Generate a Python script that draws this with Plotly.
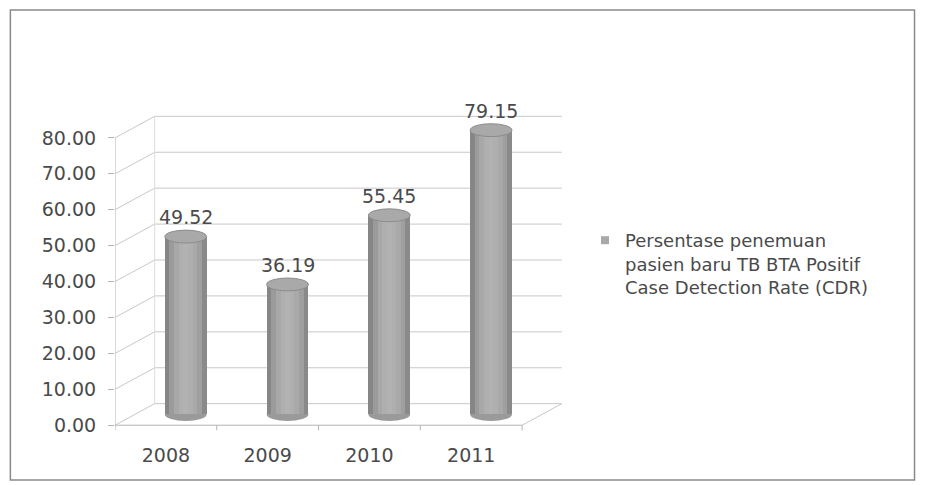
import plotly.graph_objects as go

# Case Detection Rate (CDR) per year
years = ["2008", "2009", "2010", "2011"]
cdr = [49.52, 36.19, 55.45, 79.15]
y_ticks = [0, 10, 20, 30, 40, 50, 60, 70, 80]
y_tick_text = [f"{v:.2f}" for v in y_ticks]
series_name = "Persentase penemuan<br>pasien baru TB BTA Positif<br>Case Detection Rate (CDR)"

# pseudo-3D geometry, in axis units
DEPTH_DX = 0.39      # back wall shift to the right
DEPTH_DY = 6.0       # back wall shift upwards
BAR_W = 0.41         # cylinder diameter
ELL_RY = 1.8         # half-height of the cylinder end ellipses
X_LO, X_HI = -0.5, len(years) - 0.5

W, H = 931, 485
M_L, M_R, M_T, M_B = 115, 352, 84, 49
X_RANGE = [X_LO, 4.0]
Y_RANGE = [-3, 95]

GRID = "#c8c8c8"
TEXT = "#4a4a4a"
FONT = "DejaVu Sans"

fig = go.Figure()

# shaded vertical strips give each bar a cylindrical look
strip_grays = ["#868686", "#9b9b9b", "#a8a8a8", "#afafaf", "#b2b2b2",
               "#afafaf", "#a9a9a9", "#9f9f9f", "#8a8a8a"]
n = len(strip_grays)
sw = BAR_W / n
for k, g in enumerate(strip_grays):
    off = -BAR_W / 2 + sw * (k + 0.5)
    fig.add_trace(go.Bar(
        x=[i + DEPTH_DX / 2 + off for i in range(len(years))],
        y=cdr,
        base=DEPTH_DY / 2,
        width=sw * 1.02,
        marker=dict(color=g, line=dict(width=0)),
        showlegend=False,
        hoverinfo="skip",
    ))

# legend entry with a small square swatch
fig.add_trace(go.Scatter(
    x=[None], y=[None], mode="markers", name=series_name,
    marker=dict(symbol="square", size=8, color="#a8a8a8"),
))

shapes = []

def seg(x0, y0, x1, y1, color=GRID, width=1):
    shapes.append(dict(type="line", xref="x", yref="y", x0=x0, y0=y0, x1=x1, y1=y1,
                       line=dict(color=color, width=width), layer="below"))

# back wall gridlines and side-wall diagonals
for v in y_ticks:
    seg(X_LO + DEPTH_DX, v + DEPTH_DY, X_HI + DEPTH_DX, v + DEPTH_DY)
    seg(X_LO, v, X_LO + DEPTH_DX, v + DEPTH_DY)
seg(X_LO + DEPTH_DX, DEPTH_DY, X_LO + DEPTH_DX, y_ticks[-1] + DEPTH_DY, color="#dcdcdc")
# floor edges and axes
seg(X_LO, 0, X_HI, 0, color="#b4b4b4")
seg(X_HI, 0, X_HI + DEPTH_DX, DEPTH_DY)
seg(X_LO, 0, X_LO, y_ticks[-1], color="#b4b4b4")
# category boundary ticks on the front edge
for b in range(len(years) + 1):
    seg(X_LO + b, 0, X_LO + b, -1.4, color="#b4b4b4")

# rounded bottoms and elliptical tops of the cylinders
for i, v in enumerate(cdr):
    xc = i + DEPTH_DX / 2
    base = DEPTH_DY / 2
    shapes.append(dict(type="circle", xref="x", yref="y",
                       x0=xc - BAR_W / 2, x1=xc + BAR_W / 2,
                       y0=base - ELL_RY, y1=base + ELL_RY,
                       fillcolor="#9a9a9a", line=dict(width=0), layer="below"))
    top = base + v
    shapes.append(dict(type="circle", xref="x", yref="y",
                       x0=xc - BAR_W / 2, x1=xc + BAR_W / 2,
                       y0=top - ELL_RY, y1=top + ELL_RY,
                       fillcolor="#a9a9a9", line=dict(color="#8c8c8c", width=1),
                       layer="above"))

# outer chart frame (pixel box converted to paper units)
pw = W - M_L - M_R
ph = H - M_T - M_B
def px_x(p):
    return (p - M_L) / pw
def px_y(p):
    return 1 - (p - M_T) / ph
shapes.append(dict(type="rect", xref="paper", yref="paper",
                   x0=px_x(9), x1=px_x(925), y0=px_y(480), y1=px_y(10),
                   line=dict(color="#8a8a8a", width=1.5), layer="below"))

annotations = []
for i, v in enumerate(cdr):
    annotations.append(dict(
        x=i + DEPTH_DX / 2, y=DEPTH_DY / 2 + v + ELL_RY,
        xref="x", yref="y", text=f"{v:.2f}", showarrow=False,
        yanchor="bottom", yshift=0,
        font=dict(family=FONT, size=19, color=TEXT),
    ))

fig.update_layout(
    width=W, height=H,
    margin=dict(l=M_L, r=M_R, t=M_T, b=M_B),
    paper_bgcolor="white", plot_bgcolor="white",
    barmode="overlay", bargap=0,
    shapes=shapes, annotations=annotations,
    showlegend=True,
    legend=dict(
        xref="container", yref="container",
        x=585 / W, y=1 - 222 / H, xanchor="left", yanchor="top",
        valign="top",
        font=dict(family=FONT, size=18, color=TEXT),
        bgcolor="rgba(0,0,0,0)",
    ),
    xaxis=dict(
        range=X_RANGE, tickmode="array", tickvals=list(range(len(years))),
        ticktext=years, showgrid=False, zeroline=False, showline=False,
        ticks="", ticklabelstandoff=6,
        tickfont=dict(family=FONT, size=19, color=TEXT),
    ),
    yaxis=dict(
        range=Y_RANGE, tickmode="array", tickvals=y_ticks, ticktext=y_tick_text,
        showgrid=False, zeroline=False, showline=False,
        ticks="outside", ticklen=6, tickcolor="#b4b4b4",
        ticklabelstandoff=8,
        tickfont=dict(family=FONT, size=19, color=TEXT),
    ),
)

fig.write_html("out.html")
